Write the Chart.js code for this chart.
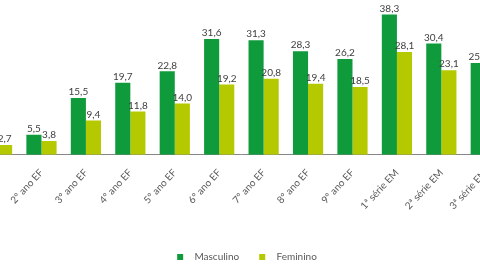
<!DOCTYPE html>
<html>
<head>
<meta charset="utf-8">
<script src="https://cdn.jsdelivr.net/npm/chart.js@4.4.1/dist/chart.umd.min.js"></script>
<style>
  html, body { margin: 0; padding: 0; width: 480px; height: 270px; overflow: hidden; background: #fff; }
  #wrap { position: absolute; left: -40px; top: 0; }
</style>
</head>
<body>
<div id="wrap"><canvas id="chart" width="600" height="320"></canvas></div>
<script>
const categories = [
  "1º ano EF", "2º ano EF", "3º ano EF", "4º ano EF", "5º ano EF", "6º ano EF",
  "7º ano EF", "8º ano EF", "9º ano EF", "1ª série EM", "2ª série EM", "3ª série EM"
];
const masculino = [3.6, 5.5, 15.5, 19.7, 22.8, 31.6, 31.3, 28.3, 26.2, 38.3, 30.4, 25.1];
const feminino = [2.7, 3.8, 9.4, 11.8, 14.0, 19.2, 20.8, 19.4, 18.5, 28.1, 23.1, 18.9];

const FONT = "Lato, 'Open Sans', sans-serif";

// target geometry of the (cropped) reference
const PLOT_LEFT = -25;    // page x of plot's left edge
const PLOT_WIDTH = 536;   // 12 categories * ~44.7px
const BASELINE = 155;     // page y of the axis line
const PX_PER_UNIT = 3.67;

// draw value labels above each bar
const valueLabels = {
  id: "valueLabels",
  afterDatasetsDraw(chart) {
    const ctx = chart.ctx;
    ctx.save();
    ctx.font = "10px " + FONT;
    ctx.fillStyle = "#404040";
    ctx.textAlign = "center";
    ctx.textBaseline = "bottom";
    chart.data.datasets.forEach((ds, i) => {
      chart.getDatasetMeta(i).data.forEach((bar, j) => {
        ctx.fillText(ds.data[j].toFixed(1).replace(".", ","), bar.x, bar.y - 1);
      });
    });
    ctx.restore();
  }
};

const canvas = document.getElementById("chart");
const chart = new Chart(canvas.getContext("2d"), {
  type: "bar",
  data: {
    labels: categories,
    datasets: [
      { label: "Masculino", data: masculino, backgroundColor: "#0f9b3b" },
      { label: "Feminino", data: feminino, backgroundColor: "#b5c900" }
    ]
  },
  options: {
    responsive: false,
    animation: false,
    layout: { padding: { top: 8, left: 0, right: 0, bottom: 0 } },
    datasets: { bar: { categoryPercentage: 0.68, barPercentage: 1.0 } },
    scales: {
      x: {
        grid: { display: false },
        border: { color: "#868686", width: 1 },
        ticks: {
          color: "#595959",
          font: { family: FONT, size: 10 },
          minRotation: 47,
          maxRotation: 47,
          padding: 4
        },
        // leave room between the rotated labels and the legend
        afterFit(scale) { scale.height += 16; }
      },
      y: {
        position: "right",
        min: 0,
        max: 40,
        grid: { display: false },
        border: { display: false },
        ticks: { display: false },
        // empty strip on the right so the legend sits a bit right of the plot centre
        afterFit(scale) { scale.width = 22; }
      }
    },
    plugins: {
      legend: {
        position: "bottom",
        labels: {
          color: "#595959",
          font: { family: FONT, size: 10 },
          boxWidth: 6,
          boxHeight: 6,
          padding: 20,
          generateLabels(chart) {
            return Chart.defaults.plugins.legend.labels.generateLabels(chart)
              .map(l => Object.assign(l, { text: "\u2002\u2009" + l.text }));
          }
        }
      },
      tooltip: { enabled: false }
    }
  },
  plugins: [valueLabels]
});

// fit the plot to the reference crop: width, vertical scale, then offset
for (let k = 0; k < 2; k++) {
  const a = chart.chartArea;
  const w = canvas.width + (PLOT_WIDTH - (a.right - a.left));
  chart.options.scales.y.max = (a.bottom - a.top) / PX_PER_UNIT;
  chart.resize(Math.round(w), canvas.height);
  chart.update();
}
const area = chart.chartArea;
const wrap = document.getElementById("wrap");
wrap.style.left = (PLOT_LEFT - area.left) + "px";
wrap.style.top = (BASELINE - area.bottom) + "px";
</script>
</body>
</html>
